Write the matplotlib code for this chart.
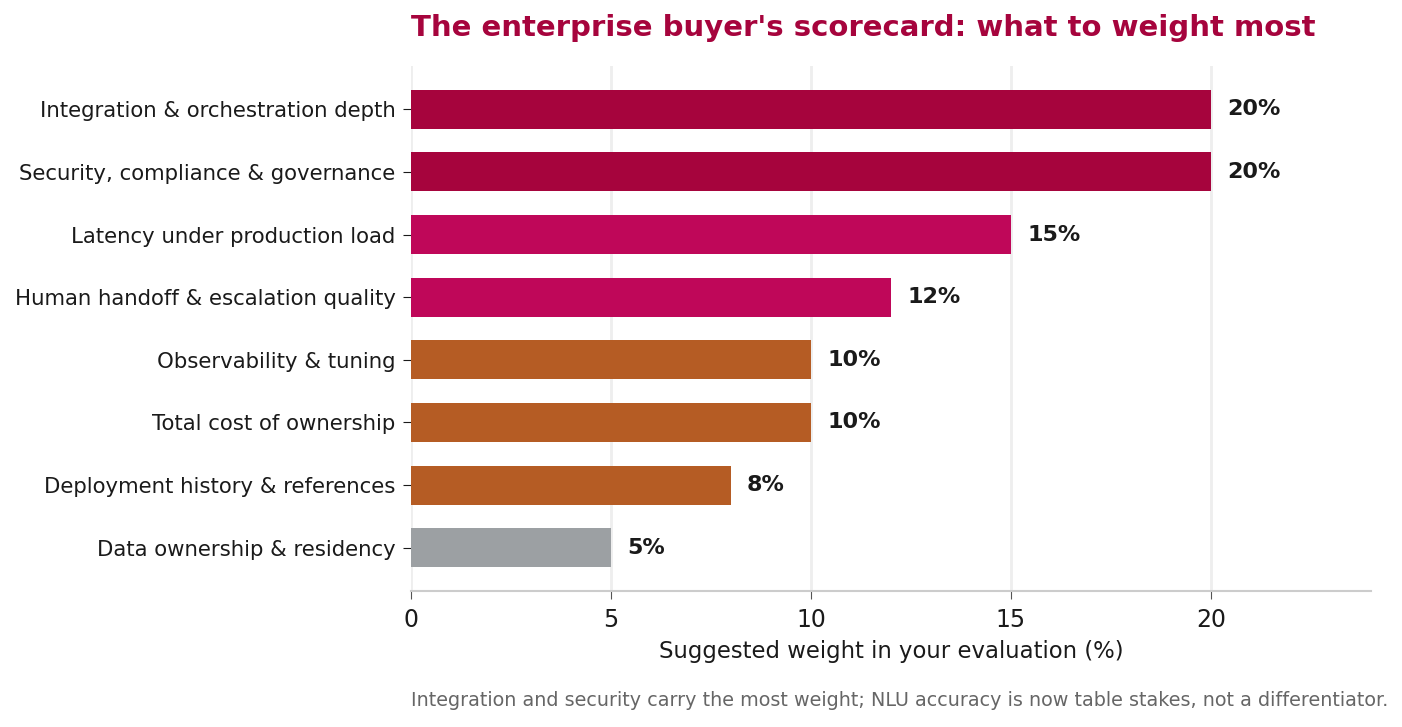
import matplotlib
matplotlib.use("Agg")
import matplotlib.pyplot as plt

categories = [
    "Integration & orchestration depth",
    "Security, compliance & governance",
    "Latency under production load",
    "Human handoff & escalation quality",
    "Observability & tuning",
    "Total cost of ownership",
    "Deployment history & references",
    "Data ownership & residency",
]
weights = [20, 20, 15, 12, 10, 10, 8, 5]
colors = ["#A6043D", "#A6043D", "#BF0759", "#BF0759",
          "#B55C24", "#B55C24", "#B55C24", "#9CA0A3"]

text_color = "#1a1a1a"

fig = plt.figure(figsize=(14.02, 7.27), dpi=100)
ax = fig.add_axes([411 / 1402, 1 - 591 / 727, 960 / 1402, 525 / 727])

y = list(range(len(categories)))
ax.barh(y, weights, height=0.62, color=colors, zorder=3)
ax.invert_yaxis()
ax.set_yticks(y)
ax.set_yticklabels(categories, fontsize=15.3, color=text_color)
ax.set_xlim(0, 24)
ax.set_xticks([0, 5, 10, 15, 20])
ax.tick_params(axis="x", labelsize=17, colors=text_color, length=6, color="#555555", pad=6)
ax.tick_params(axis="y", length=6, color=text_color, pad=5)

for yi, w in zip(y, weights):
    ax.text(w + 0.4, yi, f"{w}%", va="center", ha="left",
            fontsize=16, fontweight="bold", color=text_color)

ax.grid(axis="x", color="#eeeeee", linewidth=2, zorder=0)
ax.set_axisbelow(True)
for side in ["top", "right", "left"]:
    ax.spines[side].set_visible(False)
ax.spines["bottom"].set_color("#cccccc")
ax.spines["bottom"].set_linewidth(1.5)

ax.set_xlabel("Suggested weight in your evaluation (%)", fontsize=16.4,
              color=text_color, labelpad=6)

fig.text(411 / 1402, 1 - 28 / 727, "The enterprise buyer's scorecard: what to weight most",
         fontsize=21, fontweight="bold", color="#A6043D", ha="left", va="center")
fig.text(411 / 1402, 1 - 701 / 727,
         "Integration and security carry the most weight; NLU accuracy is now table stakes, not a differentiator.",
         fontsize=13.8, color="#666666", ha="left", va="center")

fig.savefig("out.png", dpi=100)
